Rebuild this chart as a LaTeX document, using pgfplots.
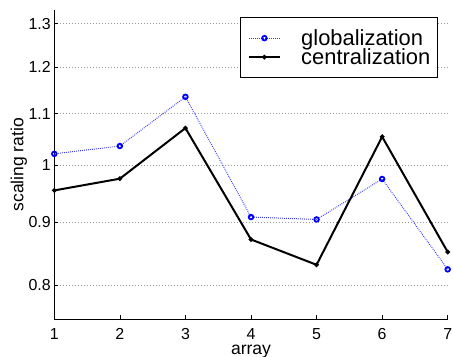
\documentclass[border=0pt]{standalone}
\usepackage{fontspec}
\setmainfont{Liberation Sans}
\usepackage{pgfplots}
\pgfplotsset{compat=1.18}
\begin{document}
\begin{tikzpicture}
\begin{axis}[
  scale only axis, width=393.4bp, height=309.3bp,
  ymode=log, ymin=0.7511, ymax=1.3335, xmin=1, xmax=7,
  xtick={1,2,3,4,5,6,7},
  ytick={0.8,0.9,1,1.1,1.2,1.3},
  yticklabels={0.8,0.9,1,1.1,1.2,1.3},
  yminorticks=false,
  axis x line*=bottom, axis y line*=left,
  axis line style={-, black, line width=0.7bp},
  tick align=inside, major tick length=4bp,
  tick style={black, line width=0.6bp},
  ymajorgrids,
  grid style={black!40, line width=0.6bp, dash pattern=on 1bp off 2bp},
  ticklabel style={font=\fontsize{16}{16}\selectfont},
  /pgf/number format/assume math mode=true,
  xticklabel style={anchor=base, inner sep=0pt, yshift=-20bp},
  xlabel={array}, ylabel={scaling ratio},
  label style={font=\fontsize{17.6}{17.6}\selectfont},
  xlabel style={at={(axis description cs:0.5,-0.1148)}, anchor=base, inner sep=0pt},
  ylabel style={at={(axis description cs:-0.0788,0.5)}, anchor=base, inner sep=0pt},
  clip=false,
  legend cell align=left,
  legend image code/.code={
    \draw[mark repeat=2,mark phase=2,#1] plot coordinates {(0bp,0bp) (15.8bp,0bp) (31.6bp,0bp)};
  },
  legend style={at={(axis description cs:0.9746,0.9764)}, anchor=north east,
    draw=black, line width=0.7bp, fill=white,
    font=\fontsize{22}{22}\selectfont,
    inner xsep=7bp, inner ysep=13bp, row sep=4bp, column sep=20bp,
    nodes={inner sep=0pt, text height=15bp, text depth=0bp}},
]
\addplot[blue!80, line width=1bp, dash pattern=on 0.8bp off 1.2bp,
  mark=o, mark size=2.3bp, mark options={solid, line width=1.8bp, blue}]
  coordinates {(1,1.021) (2,1.036) (3,1.135) (4,0.908) (5,0.904) (6,0.9745) (7,0.824)};
\addlegendentry{globalization}
\addplot[black, line width=2bp, mark=*, mark size=1.2bp, mark options={solid, black}]
  coordinates {(1,0.954) (2,0.975) (3,1.071) (4,0.871) (5,0.831) (6,1.054) (7,0.851)};
\addlegendentry{centralization}
\coordinate (bl) at (rel axis cs:0,0);
\coordinate (tr) at (rel axis cs:1,1);
\end{axis}
\pgfresetboundingbox
\path ([shift={(-54.3bp,-36.7bp)}]bl) rectangle ([shift={(5.3bp,10bp)}]tr);
\end{tikzpicture}
\end{document}
